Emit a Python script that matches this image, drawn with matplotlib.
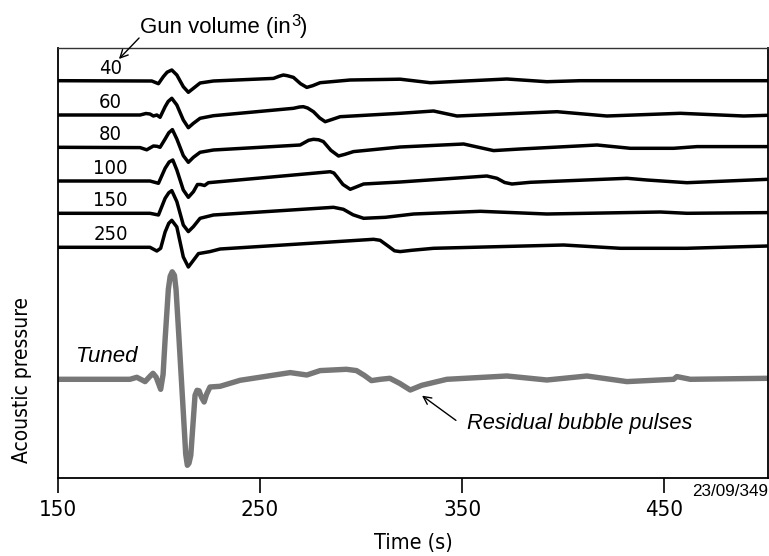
import matplotlib
matplotlib.use("Agg")
import matplotlib.pyplot as plt
from matplotlib import font_manager
from matplotlib.font_manager import FontProperties

# pick a narrow font if available
narrow_path = None
for f in font_manager.fontManager.ttflist:
    if f.name == "Liberation Sans Narrow" and f.style == "normal" and f.weight in (400, "normal", "regular"):
        narrow_path = f.fname
        break
if narrow_path is None:
    for f in font_manager.fontManager.ttflist:
        if f.name == "DejaVu Sans" and str(f.stretch) in ("condensed", "semi-condensed") and f.style == "normal" \
                and f.weight in (400, "normal", "book", "regular"):
            narrow_path = f.fname
            break

def NP(size):
    if narrow_path:
        return FontProperties(fname=narrow_path, size=size)
    return FontProperties(family="Liberation Sans", size=size)

SANS = "Liberation Sans"

# ---- data (time, amplitude) ----
gun_volumes = ["40", "60", "80", "100", "150", "250"]
offsets = [397.3, 363.0, 330.7, 297.0, 264.7, 230.7]

t40 = [150, 196.4, 199.7, 202.1, 204.0, 206.3, 208.8, 212.0, 214.5, 217.0, 220.3, 226.9, 256.6, 259.5, 261.5, 263.5, 266.5, 270.0, 273.1, 276.0, 279.7, 294.6, 319.3, 334.2, 372.1, 391.9, 408.4, 501.3]
a40 = [0, -0.3, -3, 4, 8.5, 10.7, 5.7, -6, -11.6, -7.6, -2.3, -0.3, 2.3, 4.5, 5.7, 5, 3.3, -3, -6.7, -5, -2, 0.7, 1.5, -2, 1.7, -1, 0, 0]

t60 = [150, 190.6, 193.5, 195.5, 197.2, 198.9, 200.5, 203.0, 204.5, 206.3, 208.8, 212.0, 214.5, 217.0, 220.3, 226.9, 266.5, 269.5, 271.4, 273.5, 276.4, 279.5, 282.2, 285.5, 289.6, 319.3, 335.8, 347.4, 396.9, 421.6, 457.9, 489.3, 501.3]
a60 = [0, 0, 1.5, 1, -1, 0, -2.3, 8.3, 13.5, 16.7, 10, -5, -12.7, -8.3, -3.3, -0.7, 6.7, 8, 8.3, 7, 3.3, -3, -6.7, -4.5, -1.7, 1.7, 4, -1, 3.3, -1, 1.7, -1, -0.3]

t80 = [150, 190.6, 193.9, 197.2, 199.0, 200.5, 203.0, 204.8, 206.6, 208.8, 212.0, 214.5, 217.0, 220.3, 226.9, 269.8, 274.0, 276.4, 279.0, 281.3, 285.0, 288.8, 292.0, 296.2, 319.3, 350.7, 365.5, 378.7, 416.7, 433.2, 454.6, 466.2, 501.3]
a80 = [0, -0.3, -2.5, 1.3, 1, 0, 8.3, 14.5, 17.7, 8.3, -8.3, -15, -10, -5, -2.7, 2.3, 7, 8, 7.5, 5.7, -3, -8.7, -7, -4.3, 0.3, 3.3, -3.3, -1.7, 2.3, -1, -1, 0.7, 0.7]

t100 = [150, 195.5, 199.7, 203.0, 205.0, 206.8, 208.8, 212.0, 214.5, 217.0, 219.0, 220.5, 222.5, 224.4, 284.7, 286.5, 288.0, 291.0, 294.6, 297.5, 301.2, 319.3, 362.2, 367.2, 371.0, 374.6, 383.7, 431.5, 441.4, 461.2, 501.3]
a100 = [0, 0, -2.3, 12.7, 19, 21, 11, -9, -16.3, -10.7, -3.5, -3.5, -4.5, -1.7, 9.3, 8, 4.3, -3.5, -8.3, -6, -3, -1, 5, 2.7, -1.5, -3, -1.3, 2.7, 1, -1.7, 1.7]

t150 = [150, 195.5, 199.7, 203.0, 204.8, 206.3, 208.8, 212.0, 214.5, 217.0, 220.3, 226.9, 286.3, 291.2, 296.0, 301.2, 312.0, 326.0, 359.0, 391.9, 448.0, 461.2, 501.3]
a150 = [0, 0, -1.7, 15, 20.5, 22.7, 11.7, -11.7, -18.3, -13.3, -5, -1.7, 6, 4, -1.5, -5, -4, -0.7, 2, -0.7, 1.3, 0, 0.7]

t250 = [150, 195.5, 198.9, 200.8, 203.0, 204.8, 206.3, 208.8, 212.0, 214.5, 217.0, 219.5, 225.2, 230.2, 306.1, 309.4, 313.5, 316.5, 319.3, 325.0, 335.8, 400.1, 428.2, 461.0, 501.3]
a250 = [0, 0, -3.7, -1, 15.3, 24, 27, 20.3, -9.7, -19.7, -13, -6.3, -4.3, -1.7, 8, 7, 1, -3.5, -4.3, -3, -1, 2.3, -1, -1, 1.3]

tuned_offset = 98.7
t_tuned = [150, 185.6, 189.0, 193.1, 195.5, 197.0, 198.6, 200.8, 202.0, 203.0, 204.6, 205.5, 206.5, 207.6, 208.4, 209.6, 212.0, 213.2, 214.0, 214.8, 215.7, 217.8, 218.8, 219.8, 221.0, 222.3, 223.5, 225.2, 230.2, 240.1, 264.9, 269.0, 273.1, 279.7, 292.7, 297.7, 301.5, 305.1, 309.5, 314.2, 319.0, 324.3, 330.0, 342.4, 372.1, 391.9, 411.7, 431.5, 454.6, 456.2, 462.9, 501.3]
a_tuned = [0, 0, 2, -2.3, 3, 6, 2, -10, 5, 40, 90, 103, 107.5, 104, 90, 50, -33, -75, -86, -84, -76, -16, -11, -11.5, -18, -22.7, -15, -7.7, -7, -1, 6.7, 5.5, 4.3, 8.7, 10, 8.7, 4, -1.3, 0, 1, -4, -10.7, -6, 0, 3.3, -0.7, 3.3, -2.3, 0, 2.7, 0, 1]

xticks = [150, 250, 350, 450]

series = [(t40, a40), (t60, a60), (t80, a80), (t100, a100), (t150, a150), (t250, a250)]

W, H = 769, 556
fig = plt.figure(figsize=(W / 100, H / 100), dpi=100)
L, R, T, B = 58, 768, 48, 478
ax = fig.add_axes([L / W, (H - B) / H, (R - L) / W, (B - T) / H])
ax.set_xlim(150, 501.3)
ax.set_ylim(0, B - T)

for (t, a), off in zip(series, offsets):
    ax.plot(t, [v + off for v in a], color="black", lw=2.5, solid_joinstyle="round", solid_capstyle="butt")
ax.plot(t_tuned, [v + tuned_offset for v in a_tuned], color="#777777", lw=3.9, solid_joinstyle="round")

# gun-volume labels
for lab, off in zip(gun_volumes, offsets):
    ax.text(176.0, off + 12.5, lab, ha="center", va="center", fontproperties=NP(14.5))

ax.set_xticks(xticks)
ax.set_xticklabels([str(x) for x in xticks])
for lbl in ax.get_xticklabels():
    lbl.set_fontproperties(NP(16))
ax.set_yticks([])
ax.tick_params(axis="x", direction="out", length=11, width=1.2, pad=5)
for s in ["left", "bottom", "right"]:
    ax.spines[s].set_linewidth(1.3)
ax.spines["top"].set_linewidth(1.0)
ax.spines["top"].set_color("#333333")

fig.text(413 / W, 1 - 543 / H, "Time (s)", ha="center", va="center", fontproperties=NP(15.5))
fig.text(22 / W, 1 - 380 / H, "Acoustic pressure", rotation=90, ha="center", va="center",
         fontproperties=NP(15))

# Gun volume title with superscript and arrow
gtxt = fig.text(140 / W, 1 - 27 / H, "Gun volume (in", ha="left", va="center", fontsize=16, family=SANS)
fig.canvas.draw()
bb = gtxt.get_window_extent()
x_end = bb.x1 / W
fig.text(x_end + 1 / W, 1 - 22 / H, "3", ha="left", va="center", fontsize=12, family=SANS)
fig.text(x_end + 9 / W, 1 - 27 / H, ")", ha="left", va="center", fontsize=16, family=SANS)
ax.annotate("", xy=(117 / W, 1 - 61 / H), xycoords="figure fraction",
            xytext=(141 / W, 1 - 36 / H), textcoords="figure fraction",
            arrowprops=dict(arrowstyle="->", color="black", lw=1.0, mutation_scale=14))

fig.text(107 / W, 1 - 357 / H, "Tuned", ha="center", va="center", fontsize=16, style="italic", family=SANS)

# residual bubble pulses annotation
ax.annotate("", xy=(329.0, 84.0), xytext=(348.0, 56.0),
            arrowprops=dict(arrowstyle="->", color="black", lw=1.0, mutation_scale=14))
fig.text(467 / W, 1 - 424 / H, "Residual bubble pulses", ha="left", va="center", fontsize=15.7,
         style="italic", family=SANS)

fig.text(768 / W, 1 - 492 / H, "23/09/349", ha="right", va="center", fontsize=12.3, family=SANS)

fig.savefig("out.png", dpi=100)
